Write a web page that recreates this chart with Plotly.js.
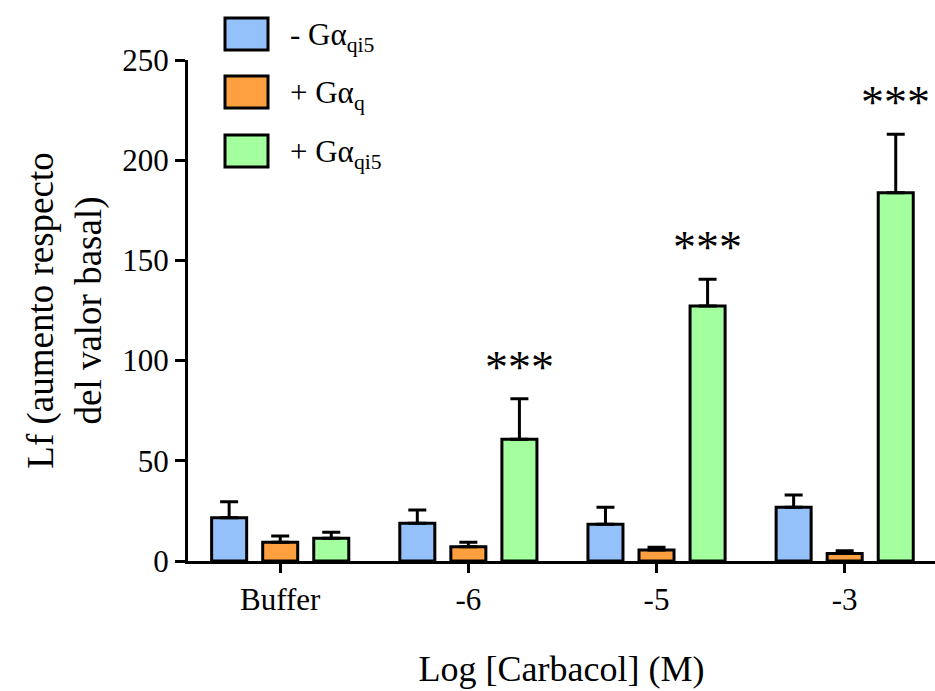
<!DOCTYPE html>
<html>
<head>
<meta charset="utf-8">
<script src="https://cdn.plot.ly/plotly-3.0.1.min.js"></script>
<style>
  html, body { margin: 0; padding: 0; background: #fff; }
  #chart { width: 935px; height: 691px; }
</style>
</head>
<body>
<div id="chart"></div>
<script>
// Carbachol concentrations (log M)
const categories = ['Buffer', '-6', '-5', '-3'];

// Series names (HTML for subscripts)
const seriesNames = ['- Gα<sub>qi5</sub>', '+ Gα<sub>q</sub>', '+ Gα<sub>qi5</sub>'];

// Mean response and SEM for each series
const sinGqi5 = [21.6, 18.8, 18.3, 26.8];
const sinGqi5Sem = [8.0, 6.6, 8.5, 6.1];
const conGq = [9.3, 7.1, 5.5, 3.8];
const conGqSem = [3.2, 2.2, 1.3, 1.3];
const conGqi5 = [11.3, 60.7, 127.2, 183.8];
const conGqi5Sem = [3.0, 20.3, 13.4, 29.2];

// Significance marks over the + Gαqi5 bars
const significance = ['', '***', '***', '***'];

const colors = ['#94c1fa', '#ffa040', '#a4ff9f'];
const FONT = 'Liberation Serif, serif';

const means = [sinGqi5, conGq, conGqi5];
const sems = [sinGqi5Sem, conGqSem, conGqi5Sem];

const traces = means.map((m, i) => ({
  type: 'bar',
  x: categories,
  y: m,
  name: seriesNames[i],
  marker: { color: colors[i], line: { color: '#000', width: 3 } },
  error_y: {
    type: 'data', symmetric: false,
    array: sems[i], arrayminus: m.map(() => 0),
    color: '#000', thickness: 3, width: 9
  },
  showlegend: false,
  hoverinfo: 'y'
}));

// Stars above the third bar of each group (x given as category index)
const annotations = [];
categories.forEach((c, k) => {
  if (!significance[k]) return;
  annotations.push({
    x: k, y: conGqi5[k] + conGqi5Sem[k],
    xref: 'x', yref: 'y', xshift: 51, yshift: 4,
    yanchor: 'bottom', xanchor: 'center',
    text: significance[k], showarrow: false,
    font: { family: FONT, size: 46, color: '#000' }
  });
});

// Legend drawn as swatches + labels above the plot
const shapes = [];
const L = 188, W = 747, B = 561, H = 501;
const px = v => (v - L) / W;
const py = v => (B - v) / H;
const legendRows = [34, 92, 151];
seriesNames.forEach((n, i) => {
  const cy = legendRows[i];
  shapes.push({
    type: 'rect', xref: 'paper', yref: 'paper',
    x0: px(225), x1: px(268), y0: py(cy + 16), y1: py(cy - 16),
    fillcolor: colors[i], line: { color: '#000', width: 3 }
  });
  annotations.push({
    xref: 'paper', yref: 'paper', x: px(288), y: py(cy + 3),
    xanchor: 'left', yanchor: 'middle', showarrow: false,
    text: n, font: { family: FONT, size: 31, color: '#000' }
  });
});

const layout = {
  width: 935, height: 691,
  margin: { l: 188, r: 0, t: 60, b: 130 },
  paper_bgcolor: '#fff', plot_bgcolor: '#fff',
  barmode: 'group', bargap: 0.186, bargroupgap: 0.314,
  font: { family: FONT, color: '#000' },
  xaxis: {
    type: 'category', range: [-0.49, 3.48],
    showline: true, linecolor: '#000', linewidth: 3,
    ticks: 'outside', ticklen: 9, tickwidth: 3, tickcolor: '#000',
    showgrid: false, zeroline: false,
    tickfont: { family: FONT, size: 31 },
    title: { text: 'Log [Carbacol] (M)', font: { family: FONT, size: 36 }, standoff: 40 }
  },
  yaxis: {
    range: [0, 250], tickvals: [0, 50, 100, 150, 200, 250],
    showline: true, linecolor: '#000', linewidth: 3,
    ticks: 'outside', ticklen: 10, tickwidth: 3, tickcolor: '#000',
    showgrid: false, zeroline: false,
    tickfont: { family: FONT, size: 31 },
    title: { text: 'Lf (aumento respecto<br>del valor basal)', font: { family: FONT, size: 37 }, standoff: 10 }
  },
  annotations: annotations,
  shapes: shapes
};

Plotly.newPlot('chart', traces, layout, { displayModeBar: false, staticPlot: true });
</script>
</body>
</html>
